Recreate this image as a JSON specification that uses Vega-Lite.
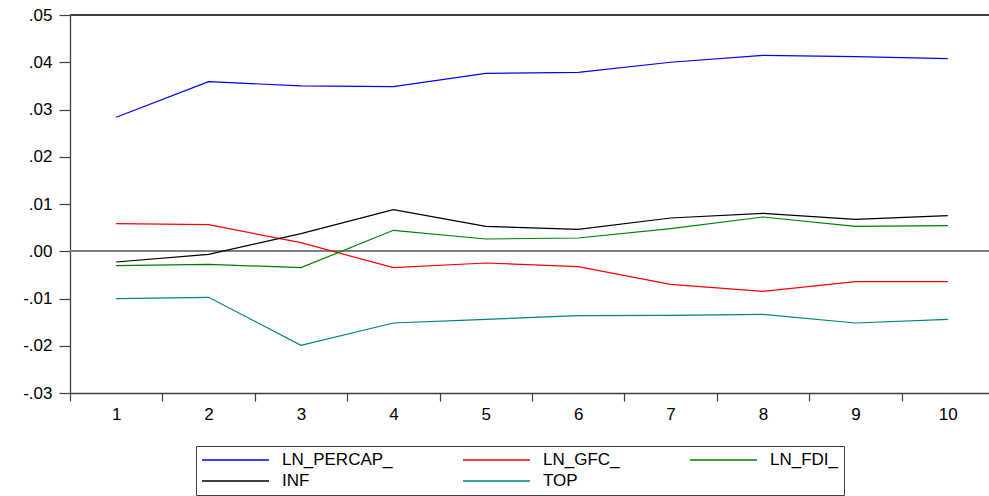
{
  "$schema": "https://vega.github.io/schema/vega-lite/v6.json",
  "width": 919,
  "height": 378,
  "padding": {"left": 0, "top": 6, "right": 0, "bottom": 0},
  "autosize": {"type": "pad"},
  "background": "white",
  "config": {"view": {"stroke": null}, "font": "Liberation Sans"},
  "data": {"values": [
    {"t": 1, "series": "LN_PERCAP_", "value": 0.02835},
    {"t": 2, "series": "LN_PERCAP_", "value": 0.03589},
    {"t": 3, "series": "LN_PERCAP_", "value": 0.0350},
    {"t": 4, "series": "LN_PERCAP_", "value": 0.03483},
    {"t": 5, "series": "LN_PERCAP_", "value": 0.03766},
    {"t": 6, "series": "LN_PERCAP_", "value": 0.03787},
    {"t": 7, "series": "LN_PERCAP_", "value": 0.0400},
    {"t": 8, "series": "LN_PERCAP_", "value": 0.04146},
    {"t": 9, "series": "LN_PERCAP_", "value": 0.04118},
    {"t": 10, "series": "LN_PERCAP_", "value": 0.04075},
    {"t": 1, "series": "LN_GFC_", "value": 0.00584},
    {"t": 2, "series": "LN_GFC_", "value": 0.00562},
    {"t": 3, "series": "LN_GFC_", "value": 0.00181},
    {"t": 4, "series": "LN_GFC_", "value": -0.00348},
    {"t": 5, "series": "LN_GFC_", "value": -0.00249},
    {"t": 6, "series": "LN_GFC_", "value": -0.00326},
    {"t": 7, "series": "LN_GFC_", "value": -0.00702},
    {"t": 8, "series": "LN_GFC_", "value": -0.00848},
    {"t": 9, "series": "LN_GFC_", "value": -0.00644},
    {"t": 10, "series": "LN_GFC_", "value": -0.00644},
    {"t": 1, "series": "LN_FDI_", "value": -0.00305},
    {"t": 2, "series": "LN_FDI_", "value": -0.00277},
    {"t": 3, "series": "LN_FDI_", "value": -0.00347},
    {"t": 4, "series": "LN_FDI_", "value": 0.00443},
    {"t": 5, "series": "LN_FDI_", "value": 0.00259},
    {"t": 6, "series": "LN_FDI_", "value": 0.0028},
    {"t": 7, "series": "LN_FDI_", "value": 0.0048},
    {"t": 8, "series": "LN_FDI_", "value": 0.00725},
    {"t": 9, "series": "LN_FDI_", "value": 0.00527},
    {"t": 10, "series": "LN_FDI_", "value": 0.00541},
    {"t": 1, "series": "INF", "value": -0.00228},
    {"t": 2, "series": "INF", "value": -0.00065},
    {"t": 3, "series": "INF", "value": 0.00374},
    {"t": 4, "series": "INF", "value": 0.0088},
    {"t": 5, "series": "INF", "value": 0.00527},
    {"t": 6, "series": "INF", "value": 0.00464},
    {"t": 7, "series": "INF", "value": 0.00704},
    {"t": 8, "series": "INF", "value": 0.00803},
    {"t": 9, "series": "INF", "value": 0.00676},
    {"t": 10, "series": "INF", "value": 0.00753},
    {"t": 1, "series": "TOP", "value": -0.01004},
    {"t": 2, "series": "TOP", "value": -0.00975},
    {"t": 3, "series": "TOP", "value": -0.01991},
    {"t": 4, "series": "TOP", "value": -0.01519},
    {"t": 5, "series": "TOP", "value": -0.01441},
    {"t": 6, "series": "TOP", "value": -0.01363},
    {"t": 7, "series": "TOP", "value": -0.01356},
    {"t": 8, "series": "TOP", "value": -0.01335},
    {"t": 9, "series": "TOP", "value": -0.01519},
    {"t": 10, "series": "TOP", "value": -0.01441}
  ]},
  "layer": [
    {
      "mark": {"type": "rule", "color": "#808080", "strokeWidth": 1.2},
      "encoding": {"y": {"datum": 0, "type": "quantitative"}}
    },
    {
      "mark": {"type": "rule", "color": "#404040", "strokeWidth": 1.3},
      "encoding": {"y": {"datum": 0.05, "type": "quantitative"}}
    },
    {
      "mark": {"type": "line", "strokeWidth": 1.2},
      "encoding": {
        "x": {
          "field": "t",
          "type": "quantitative",
          "scale": {"domain": [0.5, 10.446], "nice": false, "zero": false},
          "axis": {
            "values": [0.5, 1.5, 2.5, 3.5, 4.5, 5.5, 6.5, 7.5, 8.5, 9.5],
            "labelExpr": "format(datum.value + 0.5, 'd')",
            "labelOffset": 46.2,
            "labelFlush": false,
            "labelOverlap": false,
            "title": null,
            "grid": false,
            "tickSize": 8,
            "tickWidth": 1.2,
            "tickColor": "#404040",
            "domainColor": "#404040",
            "domainWidth": 1.3,
            "labelPadding": 5,
            "labelFontSize": 17,
            "labelColor": "#000000",
            "labelFont": "Liberation Sans"
          }
        },
        "y": {
          "field": "value",
          "type": "quantitative",
          "scale": {"domain": [-0.03, 0.05], "nice": false, "zero": false},
          "axis": {
            "values": [-0.03, -0.02, -0.01, 0, 0.01, 0.02, 0.03, 0.04, 0.05],
            "labelExpr": "replace(replace(format(datum.value, '.2f'), '0.', '.'), '\u2212', '-')",
            "title": null,
            "grid": false,
            "tickSize": 11,
            "tickWidth": 1.2,
            "tickColor": "#404040",
            "domainColor": "#404040",
            "domainWidth": 1.3,
            "labelPadding": 7,
            "labelFontSize": 17,
            "labelColor": "#000000",
            "labelFont": "Liberation Sans",
            "minExtent": 70,
            "maxExtent": 70
          }
        },
        "color": {
          "field": "series",
          "type": "nominal",
          "scale": {
            "domain": ["LN_PERCAP_", "LN_GFC_", "LN_FDI_", "INF", "TOP"],
            "range": ["#0000FF", "#FF0000", "#008000", "#000000", "#008080"]
          },
          "legend": {
            "orient": "none",
            "legendX": 126,
            "legendY": 431,
            "direction": "horizontal",
            "columns": 3,
            "title": null,
            "symbolType": "stroke",
            "symbolSize": 4489,
            "symbolStrokeWidth": 1.3,
            "clipHeight": 18,
            "rowPadding": 3,
            "columnPadding": 69,
            "labelOffset": 12,
            "labelFontSize": 17,
            "labelColor": "#000000",
            "labelFont": "Liberation Sans",
            "padding": 5,
            "strokeColor": "#404040",
            "fillColor": "white"
          }
        }
      }
    }
  ]
}
